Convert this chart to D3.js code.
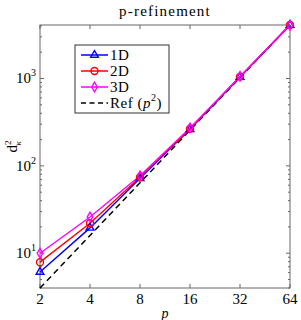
<!DOCTYPE html>
<html>
<head>
<meta charset="utf-8">
<script src="https://cdn.jsdelivr.net/npm/d3@7"></script>
<style>
  body { margin: 0; background: #fff; }
  text { font-family: "Liberation Serif", "DejaVu Serif", serif; fill: #000; }
</style>
</head>
<body>
<div id="chart"></div>
<script>
// data
const pValues = [2, 4, 8, 16, 32, 64];
const d1 = [6.1, 19.5, 72, 262, 1040, 4096];
const d2 = [7.9, 22, 74, 266, 1050, 4096];
const d3v = [10, 26, 77, 272, 1055, 4096];
const ref = pValues.map(p => p * p);
const yTicks = [10, 100, 1000];
const seriesNames = ["1D", "2D", "3D"];
const seriesColors = ["#0000ff", "#ff0000", "#ff00ff"];

let margin = {top: 25, right: 11, bottom: 32, left: 40},
    width = 301 - margin.left - margin.right,
    height = 320 - margin.top - margin.bottom;

let svg = d3.select("#chart")
  .append("svg")
    .attr("width", 301)
    .attr("height", 320)
  .append("g")
    .attr("transform", `translate(${margin.left}, ${margin.top})`);

const x = d3.scaleLog().base(2)
  .domain([2, 64])
  .range([0, width]);

const y = d3.scaleLog()
  .domain([4, 4096])
  .range([height, 0]);

// minor ticks for log y
const minor = [];
for (let e = 0; e <= 3; e++) {
  for (let m = 1; m < 10; m++) {
    const v = m * Math.pow(10, e);
    if (v >= 4 && v <= 4096) minor.push(v);
  }
}

const axisColor = "#666";

// ticks (inside), on all four sides
const tickG = svg.append("g").attr("stroke", axisColor).attr("stroke-width", 1);
pValues.forEach(p => {
  tickG.append("line").attr("x1", x(p)).attr("x2", x(p)).attr("y1", height).attr("y2", height - 4);
  tickG.append("line").attr("x1", x(p)).attr("x2", x(p)).attr("y1", 0).attr("y2", 4);
});
minor.forEach(v => {
  const len = yTicks.includes(v) ? 4 : 2;
  tickG.append("line").attr("x1", 0).attr("x2", len).attr("y1", y(v)).attr("y2", y(v));
  tickG.append("line").attr("x1", width).attr("x2", width - len).attr("y1", y(v)).attr("y2", y(v));
});

// box
svg.append("rect")
  .attr("width", width).attr("height", height)
  .attr("fill", "none").attr("stroke", axisColor).attr("stroke-width", 1);

// x tick labels
svg.append("g")
  .selectAll("text")
  .data(pValues)
  .join("text")
    .attr("x", d => x(d))
    .attr("y", height + 16)
    .attr("text-anchor", "middle")
    .attr("font-size", 15)
    .text(d => d);

// y tick labels 10^n
const yl = svg.append("g")
  .selectAll("text")
  .data(yTicks)
  .join("text")
    .attr("x", -4)
    .attr("y", d => y(d) + 5)
    .attr("text-anchor", "end")
    .attr("font-size", 15);
yl.append("tspan").text("10");
yl.append("tspan").attr("font-size", 10).attr("dy", -7).text(d => Math.round(Math.log10(d)));

// axis labels
svg.append("text")
  .attr("x", width / 2)
  .attr("y", height + 30)
  .attr("text-anchor", "middle")
  .attr("font-size", 14)
  .attr("font-style", "italic")
  .text("p");

const ylab = svg.append("text")
  .attr("transform", `translate(${-23}, ${height / 2 - 10}) rotate(-90)`)
  .attr("text-anchor", "middle")
  .attr("font-size", 15);
ylab.append("tspan").text("d");
ylab.append("tspan").attr("font-size", 9).attr("dy", -6).text("2");
ylab.append("tspan").attr("font-size", 9).attr("dx", -5).attr("dy", 10).attr("font-style", "italic").text("κ");

// title
svg.append("text")
  .attr("x", width / 2)
  .attr("y", -9)
  .attr("text-anchor", "middle")
  .attr("font-size", 15)
  .attr("letter-spacing", 1.2)
  .text("p-refinement");

const line = d3.line()
  .x((d, i) => x(pValues[i]))
  .y(d => y(d));

// reference
svg.append("path")
  .datum(ref)
  .attr("fill", "none")
  .attr("stroke", "#000")
  .attr("stroke-width", 1.5)
  .attr("stroke-dasharray", "6,4")
  .attr("d", line);

function marker(g, type, color, cx, cy) {
  if (type === 0) {
    const s = d3.symbol().type(d3.symbolTriangle).size(26);
    g.append("path").attr("d", s()).attr("transform", `translate(${cx},${cy})`)
      .attr("fill", "none").attr("stroke", color).attr("stroke-width", 1.4);
  } else if (type === 1) {
    g.append("circle").attr("cx", cx).attr("cy", cy).attr("r", 3.5)
      .attr("fill", "none").attr("stroke", color).attr("stroke-width", 1.4);
  } else {
    const s = d3.symbol().type(d3.symbolDiamond).size(26);
    g.append("path").attr("d", s()).attr("transform", `translate(${cx},${cy})`)
      .attr("fill", "none").attr("stroke", color).attr("stroke-width", 1.4);
  }
}

const allSeries = [d1, d2, d3v];
allSeries.forEach((vals, k) => {
  svg.append("path")
    .datum(vals)
    .attr("fill", "none")
    .attr("stroke", seriesColors[k])
    .attr("stroke-width", 1.4)
    .attr("d", line);
});
allSeries.forEach((vals, k) => {
  const g = svg.append("g");
  vals.forEach((v, i) => marker(g, k, seriesColors[k], x(pValues[i]), y(v)));
});

// legend
const lg = svg.append("g").attr("transform", `translate(${75 - margin.left}, ${45 - margin.top})`);
lg.append("rect").attr("width", 94).attr("height", 68)
  .attr("fill", "#fff").attr("stroke", "#333").attr("stroke-width", 1);
const legendItems = seriesNames.concat(["Ref"]);
legendItems.forEach((name, k) => {
  const ly = 10 + k * 16;
  const l = lg.append("line").attr("x1", 6).attr("x2", 33).attr("y1", ly).attr("y2", ly)
    .attr("stroke-width", 1.5);
  if (k < 3) {
    l.attr("stroke", seriesColors[k]);
    marker(lg, k, seriesColors[k], 19.5, ly);
  } else {
    l.attr("stroke", "#000").attr("stroke-dasharray", "5,3.5");
  }
  const t = lg.append("text").attr("x", 35).attr("y", ly + 5).attr("font-size", 15)
    .attr("letter-spacing", 0.5);
  if (k < 3) t.text(name);
  else {
    t.append("tspan").text("Ref (");
    t.append("tspan").attr("font-style", "italic").text("p");
    t.append("tspan").attr("font-size", 10).attr("dy", -7).text("2");
    t.append("tspan").attr("dy", 7).text(")");
  }
});
</script>
</body>
</html>
